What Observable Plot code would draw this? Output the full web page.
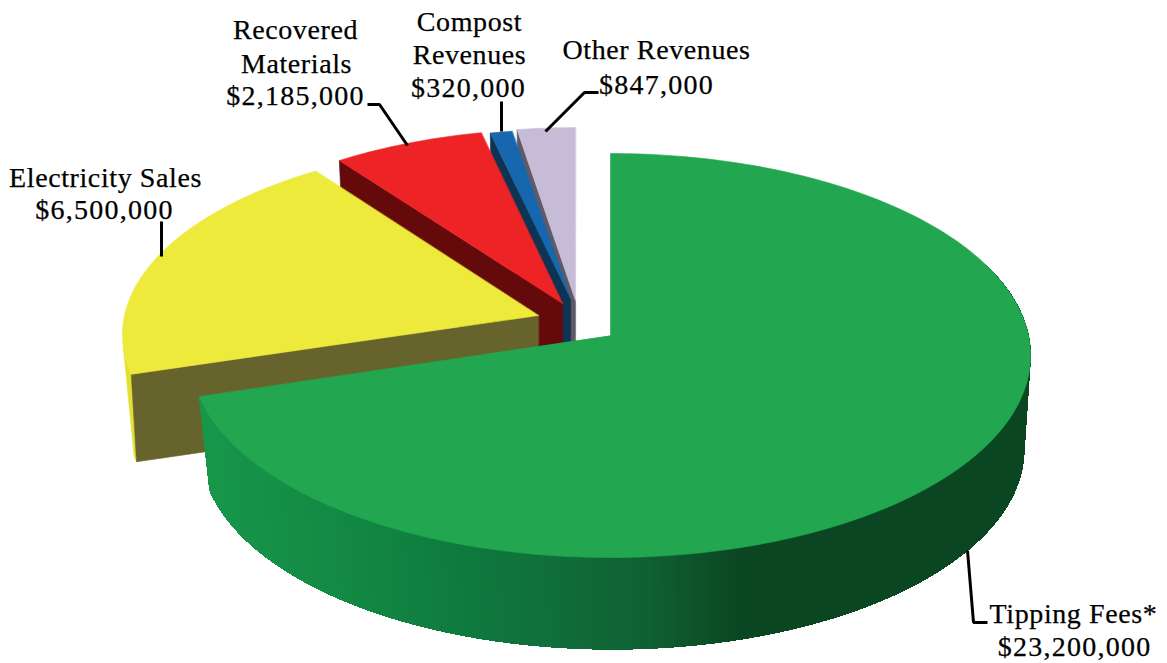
<!DOCTYPE html>
<html>
<head>
<meta charset="utf-8">
<script src="https://cdn.jsdelivr.net/npm/d3@7"></script>
<script src="https://cdn.jsdelivr.net/npm/@observablehq/plot@0.6"></script>
<style>html,body{margin:0;padding:0;background:#fff}svg{display:block}</style>
</head>
<body>
<div id="chart"></div>
<script>
// Data
const categories = ["Tipping Fees*", "Electricity Sales", "Recovered Materials", "Compost Revenues", "Other Revenues"];
const revenues = [23200000, 6500000, 2185000, 320000, 847000];

// Label lines
const labelLines = [
  ["Tipping Fees*", 1073, 622], ["$23,200,000", 1074, 655],
  ["Electricity Sales", 105, 186], ["$6,500,000", 104, 218],
  ["Recovered", 295, 38], ["Materials", 296, 72], ["$2,185,000", 295, 104],
  ["Compost", 469, 30], ["Revenues", 469, 63], ["$320,000", 468, 96],
  ["Other Revenues", 656, 58], ["$847,000", 656, 93]
];
const leaders = [
  [[967,550],[973,622],[987,622]],
  [[161,221],[161,256]],
  [[367,104],[379,104],[407,145]],
  [[501,101],[501,131]],
  [[598,92],[584,92],[545,131]]
];

// Layout of each exploded slice: apex, radii, drop to the bottom disc, bottom radius ratio
const apexX = [610, 538, 562, 570, 575];
const apexY = [335, 315, 303, 298, 300];
const radX = [418, 414, 405, 400, 400];
const radY = [200, 192, 192, 186, 190];
const drop = [94, 88, 90, 90, 90];
const bottomX = [612, 538, 562, 570, 575];
const ratio = [0.98, 0.987, 0.98, 0.98, 0.98];
const endTrim = [0, -0.016, 0, 0, 0];

// Styles
const topFill = ["#22a750", "#eeea3c", "#ee2326", "#1767ae", "#c7bcd7"];
const faceFill = ["#17964a", "#67632c", "#640a0a", "#0f3352", "#5f5a66"];
const outerFill = ["#17964a", "#e4e032", "#640a0a", "#0f3352", "#5f5a66"];
const sideStopX = [205, 330, 460, 560, 650, 700, 740, 1032];
const sideStopC = ["#17964a", "#138a45", "#0f7a3e", "#106d39", "#0f5f33", "#0d5029", "#0a4622", "#0a4622"];
const sideColor = d3.scaleLinear().domain(sideStopX).range(sideStopC).clamp(true);

const k = 0.099;
const total = d3.sum(revenues);
let acc = 0;
const slices = revenues.map((v, i) => {
  const a0 = acc / total * 2 * Math.PI; acc += v;
  return {i, a0, a1: acc / total * 2 * Math.PI - endTrim[i]};
});
function rim(i, a, bottom) {
  const u = Math.sin(a), w = -Math.cos(a), s = 1 / (1 - k * w);
  const q = bottom ? ratio[i] : 1;
  const cx = bottom ? bottomX[i] : apexX[i], cy = apexY[i] + (bottom ? drop[i] : 0);
  return {x: cx + radX[i] * q * u * s, y: cy + radY[i] * (bottom ? 0.99 : 1) * w * s};
}
function arc(i, a0, a1, bottom) {
  const n = Math.max(2, Math.ceil((a1 - a0) / 0.02));
  return d3.range(n + 1).map(j => rim(i, a0 + (a1 - a0) * j / n, bottom));
}
const apexTop = i => ({x: apexX[i], y: apexY[i]});
const apexBot = i => ({x: bottomX[i], y: apexY[i] + drop[i]});
const poly = (pts, fill) => Plot.line(pts, {x: "x", y: "y", fill, stroke: fill, strokeWidth: 0.6, curve: "linear-closed"});

const marks = [];
// paint from back to front
for (const i of [4, 3, 2, 1, 0]) {
  const {a0, a1} = slices[i];
  if (i === 0) {
    const quads = [];
    const aStart = 1.2, n = Math.ceil((a1 - aStart) / 0.008);
    for (let j = 0; j < n; j++) {
      const b0 = aStart + (a1 - aStart) * j / n, b1 = aStart + (a1 - aStart) * (j + 1) / n;
      const p = [rim(0, b0), rim(0, b1), rim(0, b1, true), rim(0, b0, true)];
      const c = sideColor((p[0].x + p[1].x) / 2);
      p.forEach(q => quads.push({...q, j, c}));
    }
    marks.push(Plot.line(quads, {x: "x", y: "y", z: "j", fill: "c", stroke: "c", strokeWidth: 1, curve: "linear-closed", shapeRendering: "crispEdges"}));
  } else {
    if (i === 1) {
      // outer rim sliver of the yellow slice
      marks.push(poly([...arc(1, a0, a0 + 0.14), rim(1, a0 + 0.03, true), rim(1, a0, true)], outerFill[1]));
    }
    // radial face at the leading edge
    marks.push(poly([apexTop(i), rim(i, a0), rim(i, a0, true), apexBot(i)], faceFill[i]));
  }
  marks.push(poly([apexTop(i), ...arc(i, a0, a1)], topFill[i]));
}
for (const l of leaders) {
  marks.push(Plot.line(l.map(([x, y]) => ({x, y})), {x: "x", y: "y", stroke: "#000", strokeWidth: 3, strokeLinejoin: "miter", strokeLinecap: "butt"}));
}
marks.push(Plot.text(labelLines, {
  x: d => d[1], y: d => d[2], text: d => d[0], lineAnchor: "bottom", textAnchor: "middle",
  fontFamily: "Liberation Serif", fontSize: 28, fill: "#000", stroke: "#000", strokeWidth: 0.25
}));

const chart = Plot.plot({
  width: 1167, height: 663, margin: 0,
  x: {domain: [0, 1167], range: [0, 1167], axis: null},
  y: {domain: [0, 663], range: [0, 663], axis: null},
  marks
});
d3.select(chart).selectAll("text").style("letter-spacing", function () {
  return this.textContent.startsWith("$") ? "1.25px" : "0.6px";
});
document.getElementById("chart").append(chart);
</script>
</body>
</html>
